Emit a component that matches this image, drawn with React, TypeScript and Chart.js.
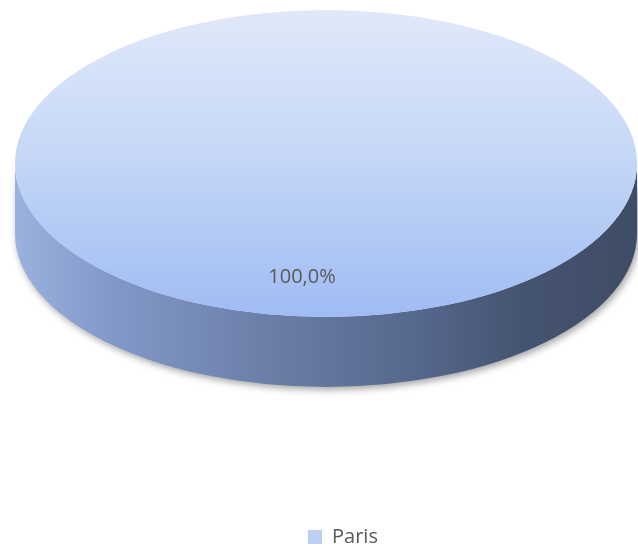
import React, { useEffect, useRef } from "react";
import { Chart, registerables } from "chart.js";

Chart.register(...registerables);

// ---- data ----
const categories: string[] = ["Paris"];
const values: number[] = [100];

// ---- styling ----
const TOP_STOPS: [number, string][] = [
  [0, "#e0e9f9"],
  [0.45, "#c7d8f7"],
  [1, "#9fbcf3"],
];
const SIDE_STOPS: [number, string][] = [
  [0, "#9ab2de"],
  [0.15, "#8399c8"],
  [0.4, "#6b7fa8"],
  [0.65, "#55678c"],
  [0.82, "#44536f"],
  [1, "#3f4c66"],
];
const LEGEND_COLOR = "#bcd0f6";
const TEXT_COLOR = "#595959";
const FONT = "'Open Sans', 'Noto Sans', sans-serif";

function pieGeom(chart: any) {
  const W = chart.width;
  const rx = W * 0.4875;
  const ry = rx * 0.4936;
  const cx = W * 0.511;
  const cy = 10 + ry;
  const depth = 70;
  return { rx, ry, cx, cy, depth };
}

function areaCircle(chart: any) {
  const a = chart.chartArea;
  const x = (a.left + a.right) / 2;
  const y = (a.top + a.bottom) / 2;
  const r = Math.min(a.right - a.left, a.bottom - a.top) / 2;
  return { x, y, r };
}

const pie3d = {
  id: "pie3d",
  beforeDatasetsDraw(chart: any) {
    const arc = chart.getDatasetMeta(0).data[0];
    if (!arc) return;
    const { x, y, outerRadius: r } = arc as any;
    const { rx, ry, cx, cy, depth } = pieGeom(chart);
    const ctx: CanvasRenderingContext2D = chart.ctx;
    ctx.save();
    ctx.translate(cx, cy);
    ctx.scale(rx / r, ry / r);
    ctx.translate(-x, -y);
    const d = (depth * r) / ry;
    // side wall
    const g = ctx.createLinearGradient(x - r, 0, x + r, 0);
    SIDE_STOPS.forEach(([o, c]) => g.addColorStop(o, c));
    ctx.save();
    ctx.shadowColor = "rgba(0,0,0,0.35)";
    ctx.shadowBlur = 7;
    ctx.shadowOffsetX = 2;
    ctx.shadowOffsetY = 3;
    ctx.beginPath();
    ctx.arc(x, y, r, 0, Math.PI, false);
    ctx.lineTo(x - r, y + d);
    ctx.arc(x, y + d, r, Math.PI, 0, true);
    ctx.closePath();
    ctx.fillStyle = g;
    ctx.fill();
    ctx.restore();
  },
  afterDatasetsDraw(chart: any) {
    const arc = chart.getDatasetMeta(0).data[0];
    if (!arc) return;
    const ctx: CanvasRenderingContext2D = chart.ctx;
    ctx.restore();
    // data labels
    const total = values.reduce((s, v) => s + v, 0);
    const { rx, ry, cx, cy } = pieGeom(chart);
    const meta = chart.getDatasetMeta(0);
    meta.data.forEach((el: any, i: number) => {
      const mid = (el.startAngle + el.endAngle) / 2;
      const f = 0.74;
      const lx = cx + Math.cos(mid) * rx * f - 24;
      const ly = cy + Math.sin(mid) * ry * f;
      const txt = ((values[i] / total) * 100).toFixed(1).replace(".", ",") + "%";
      ctx.save();
      ctx.font = `20px ${FONT}`;
      ctx.fillStyle = TEXT_COLOR;
      ctx.textAlign = "center";
      ctx.textBaseline = "middle";
      ctx.fillText(txt, lx, ly);
      ctx.restore();
    });
  },
  afterLayout(chart: any) {
    if (chart.legend) {
      chart.legend.top += 10;
      chart.legend.bottom += 10;
    }
  },
};

export default function App() {
  const ref = useRef<HTMLCanvasElement>(null);
  useEffect(() => {
    const canvas = ref.current;
    if (!canvas) return;
    const chart = new Chart(canvas, {
      type: "pie",
      data: {
        labels: categories,
        datasets: [
          {
            data: values,
            clip: false as any,
            borderWidth: 0,
            backgroundColor: (c: any) => {
              const ch = c.chart;
              if (!ch.chartArea) return TOP_STOPS[1][1];
              const { y, r } = areaCircle(ch);
              const g = ch.ctx.createLinearGradient(0, y - r, 0, y + r);
              TOP_STOPS.forEach(([o, col]) => g.addColorStop(o, col));
              return g;
            },
          } as any,
        ],
      },
      options: {
        responsive: false,
        animation: false,
        events: [],
        layout: { padding: { left: 48 } },
        plugins: {
          tooltip: { enabled: false },
          legend: {
            position: "bottom",
            labels: {
              boxWidth: 14,
              boxHeight: 14,
              padding: 10,
              color: TEXT_COLOR,
              font: { size: 20, family: FONT },
              generateLabels: () =>
                categories.map((c, i) => ({
                  text: c,
                  fillStyle: LEGEND_COLOR,
                  strokeStyle: LEGEND_COLOR,
                  lineWidth: 0,
                  hidden: false,
                  index: i,
                  fontColor: TEXT_COLOR,
                })),
            },
          },
        },
      },
      plugins: [pie3d],
    });
    return () => chart.destroy();
  }, []);
  return (
    <div style={{ position: "fixed", left: 0, top: 0, width: 638, height: 547, background: "#fff" }}>
      <canvas ref={ref} width={638} height={547} style={{ display: "block" }} />
    </div>
  );
}
